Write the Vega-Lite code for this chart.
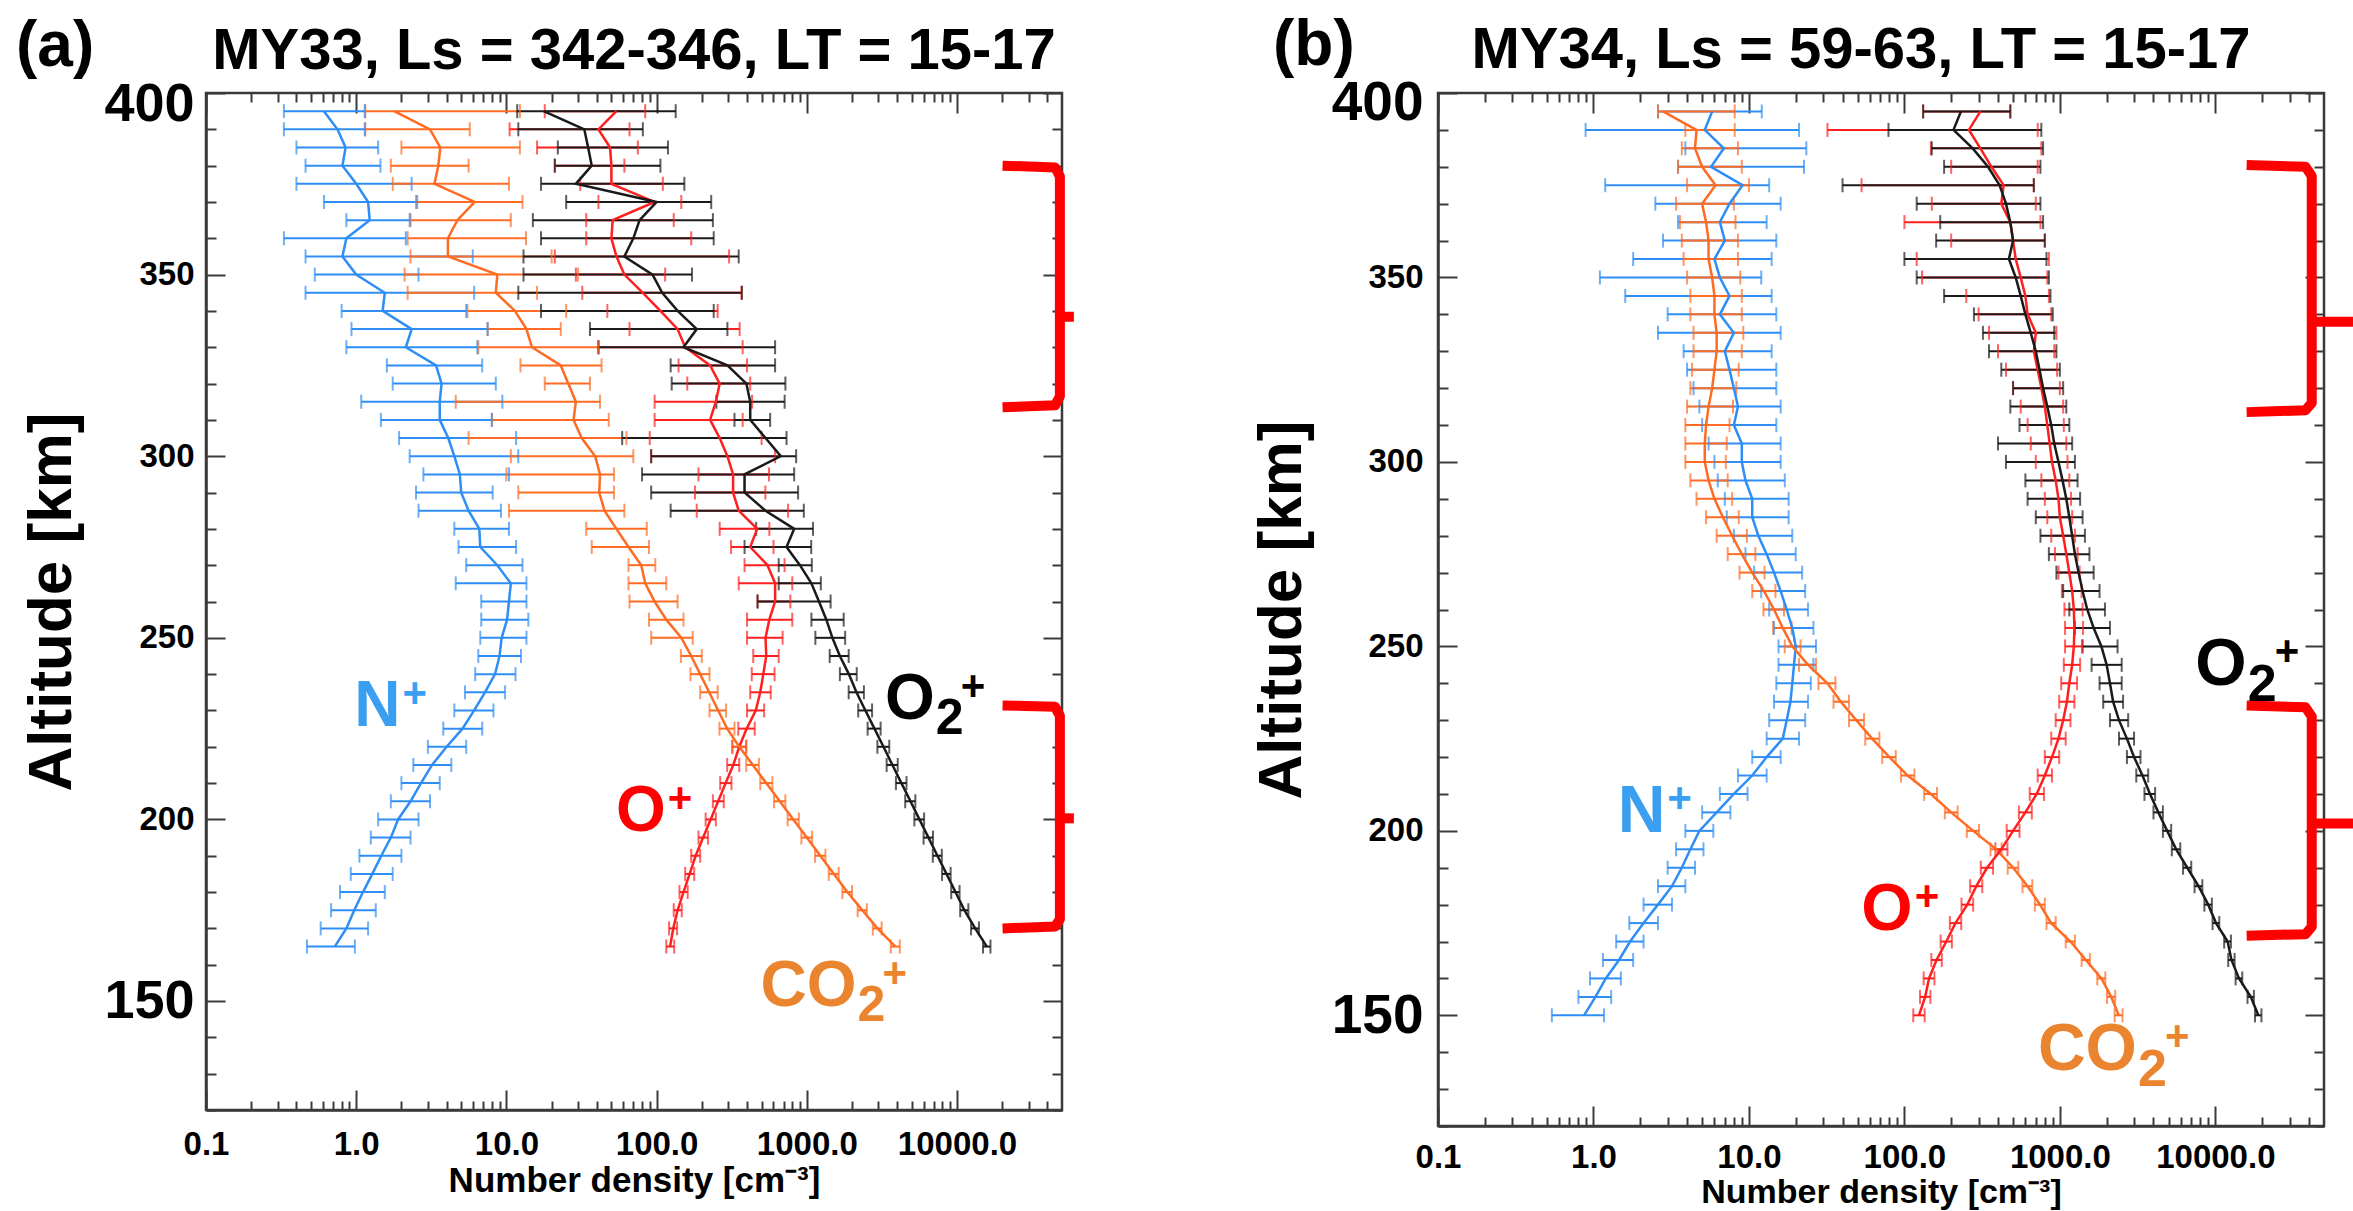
{
  "$schema": "https://vega.github.io/schema/vega-lite/v6.json",
  "padding": {"left": 14, "top": 12, "right": 0, "bottom": 0},
  "background": "white",
  "config": {"view": {"stroke": "#3a3a3a", "strokeWidth": 2.5}, "font": "Liberation Sans"},
  "datasets": {
    "prof": [
      {"p":"a","i":"N+","a":395,"v":0.61,"lo":0.33,"hi":1.14},{"p":"a","i":"N+","a":390,"v":0.75,"lo":0.33,"hi":1.14},{"p":"a","i":"N+","a":385,"v":0.85,"lo":0.40,"hi":1.40},{"p":"a","i":"N+","a":380,"v":0.81,"lo":0.46,"hi":1.45},{"p":"a","i":"N+","a":375,"v":1.00,"lo":0.40,"hi":2.34},{"p":"a","i":"N+","a":370,"v":1.20,"lo":0.61,"hi":2.55},{"p":"a","i":"N+","a":365,"v":1.23,"lo":0.86,"hi":2.27},{"p":"a","i":"N+","a":360,"v":0.86,"lo":0.33,"hi":2.14},{"p":"a","i":"N+","a":355,"v":0.81,"lo":0.46,"hi":5.97},{"p":"a","i":"N+","a":350,"v":1.00,"lo":0.53,"hi":2.60},{"p":"a","i":"N+","a":345,"v":1.55,"lo":0.46,"hi":6.10},{"p":"a","i":"N+","a":340,"v":1.50,"lo":0.80,"hi":5.40},{"p":"a","i":"N+","a":335,"v":2.34,"lo":0.93,"hi":7.50},{"p":"a","i":"N+","a":330,"v":2.14,"lo":0.86,"hi":6.40},{"p":"a","i":"N+","a":325,"v":3.40,"lo":1.60,"hi":6.90},{"p":"a","i":"N+","a":320,"v":3.70,"lo":1.75,"hi":8.50},{"p":"a","i":"N+","a":315,"v":3.60,"lo":1.08,"hi":9.40},{"p":"a","i":"N+","a":310,"v":3.60,"lo":1.46,"hi":8.00},{"p":"a","i":"N+","a":305,"v":4.10,"lo":1.93,"hi":11.6},{"p":"a","i":"N+","a":300,"v":4.50,"lo":2.27,"hi":12.0},{"p":"a","i":"N+","a":295,"v":4.90,"lo":2.80,"hi":10.4},{"p":"a","i":"N+","a":290,"v":5.00,"lo":2.50,"hi":8.1},{"p":"a","i":"N+","a":285,"v":5.60,"lo":2.60,"hi":9.2},{"p":"a","i":"N+","a":280,"v":6.60,"lo":4.50,"hi":10.4},{"p":"a","i":"N+","a":275,"v":6.70,"lo":4.80,"hi":11.6},{"p":"a","i":"N+","a":270,"v":8.70,"lo":5.40,"hi":12.8},{"p":"a","i":"N+","a":265,"v":10.7,"lo":4.60,"hi":13.6},{"p":"a","i":"N+","a":260,"v":10.4,"lo":6.80,"hi":13.6},{"p":"a","i":"N+","a":255,"v":10.1,"lo":6.80,"hi":14.0},{"p":"a","i":"N+","a":250,"v":9.3,"lo":6.70,"hi":13.6},{"p":"a","i":"N+","a":245,"v":9.0,"lo":6.5,"hi":12.5},{"p":"a","i":"N+","a":240,"v":8.4,"lo":6.2,"hi":11.5},{"p":"a","i":"N+","a":235,"v":7.2,"lo":5.3,"hi":9.8},{"p":"a","i":"N+","a":230,"v":6.1,"lo":4.5,"hi":8.2},{"p":"a","i":"N+","a":225,"v":5.1,"lo":3.8,"hi":6.9},{"p":"a","i":"N+","a":220,"v":4.0,"lo":3.0,"hi":5.4},{"p":"a","i":"N+","a":215,"v":3.2,"lo":2.4,"hi":4.3},{"p":"a","i":"N+","a":210,"v":2.7,"lo":2.0,"hi":3.6},{"p":"a","i":"N+","a":205,"v":2.3,"lo":1.7,"hi":3.1},{"p":"a","i":"N+","a":200,"v":1.9,"lo":1.4,"hi":2.6},{"p":"a","i":"N+","a":195,"v":1.7,"lo":1.25,"hi":2.3},{"p":"a","i":"N+","a":190,"v":1.47,"lo":1.05,"hi":2.0},{"p":"a","i":"N+","a":185,"v":1.28,"lo":0.92,"hi":1.75},{"p":"a","i":"N+","a":180,"v":1.11,"lo":0.78,"hi":1.55},{"p":"a","i":"N+","a":175,"v":0.97,"lo":0.68,"hi":1.35},{"p":"a","i":"N+","a":170,"v":0.86,"lo":0.58,"hi":1.2},{"p":"a","i":"N+","a":165,"v":0.72,"lo":0.47,"hi":0.98},
      {"p":"a","i":"O+","a":395,"v":54,"lo":18,"hi":84},{"p":"a","i":"O+","a":390,"v":41,"lo":10.5,"hi":66},{"p":"a","i":"O+","a":385,"v":49,"lo":16,"hi":75},{"p":"a","i":"O+","a":380,"v":50,"lo":21,"hi":61},{"p":"a","i":"O+","a":375,"v":50,"lo":31,"hi":110},{"p":"a","i":"O+","a":370,"v":97,"lo":41,"hi":146},{"p":"a","i":"O+","a":365,"v":51,"lo":34,"hi":130},{"p":"a","i":"O+","a":360,"v":50,"lo":34,"hi":170},{"p":"a","i":"O+","a":355,"v":54,"lo":21,"hi":304},{"p":"a","i":"O+","a":350,"v":61,"lo":29,"hi":114},{"p":"a","i":"O+","a":345,"v":81,"lo":32,"hi":367},{"p":"a","i":"O+","a":340,"v":106,"lo":47,"hi":255},{"p":"a","i":"O+","a":335,"v":138,"lo":66,"hi":357},{"p":"a","i":"O+","a":330,"v":155,"lo":41,"hi":374},{"p":"a","i":"O+","a":325,"v":227,"lo":140,"hi":400},{"p":"a","i":"O+","a":320,"v":263,"lo":160,"hi":420},{"p":"a","i":"O+","a":315,"v":248,"lo":97,"hi":432},{"p":"a","i":"O+","a":310,"v":227,"lo":97,"hi":374},{"p":"a","i":"O+","a":305,"v":263,"lo":90,"hi":500},{"p":"a","i":"O+","a":300,"v":296,"lo":92,"hi":615},{"p":"a","i":"O+","a":295,"v":323,"lo":190,"hi":560},{"p":"a","i":"O+","a":290,"v":323,"lo":180,"hi":530},{"p":"a","i":"O+","a":285,"v":352,"lo":185,"hi":750},{"p":"a","i":"O+","a":280,"v":467,"lo":263,"hi":563},{"p":"a","i":"O+","a":275,"v":420,"lo":313,"hi":600},{"p":"a","i":"O+","a":270,"v":547,"lo":385,"hi":711},{"p":"a","i":"O+","a":265,"v":615,"lo":352,"hi":800},{"p":"a","i":"O+","a":260,"v":615,"lo":470,"hi":777},{"p":"a","i":"O+","a":255,"v":563,"lo":400,"hi":800},{"p":"a","i":"O+","a":250,"v":531,"lo":400,"hi":690},{"p":"a","i":"O+","a":245,"v":537,"lo":440,"hi":650},{"p":"a","i":"O+","a":240,"v":513,"lo":430,"hi":610},{"p":"a","i":"O+","a":235,"v":490,"lo":420,"hi":575},{"p":"a","i":"O+","a":230,"v":457,"lo":400,"hi":520},{"p":"a","i":"O+","a":225,"v":398,"lo":350,"hi":450},{"p":"a","i":"O+","a":220,"v":355,"lo":320,"hi":395},{"p":"a","i":"O+","a":215,"v":324,"lo":295,"hi":355},{"p":"a","i":"O+","a":210,"v":288,"lo":265,"hi":315},{"p":"a","i":"O+","a":205,"v":257,"lo":237,"hi":280},{"p":"a","i":"O+","a":200,"v":229,"lo":212,"hi":248},{"p":"a","i":"O+","a":195,"v":204,"lo":190,"hi":220},{"p":"a","i":"O+","a":190,"v":182,"lo":170,"hi":195},{"p":"a","i":"O+","a":185,"v":166,"lo":155,"hi":178},{"p":"a","i":"O+","a":180,"v":151,"lo":142,"hi":161},{"p":"a","i":"O+","a":175,"v":138,"lo":130,"hi":147},{"p":"a","i":"O+","a":170,"v":129,"lo":121,"hi":137},{"p":"a","i":"O+","a":165,"v":123,"lo":116,"hi":131},
      {"p":"a","i":"CO2+","a":395,"v":1.79,"lo":1.15,"hi":12.3},{"p":"a","i":"CO2+","a":390,"v":3.1,"lo":1.15,"hi":5.7},{"p":"a","i":"CO2+","a":385,"v":3.63,"lo":2.0,"hi":12.3},{"p":"a","i":"CO2+","a":380,"v":3.52,"lo":1.7,"hi":5.6},{"p":"a","i":"CO2+","a":375,"v":3.32,"lo":1.75,"hi":10.4},{"p":"a","i":"CO2+","a":370,"v":6.15,"lo":2.5,"hi":12.8},{"p":"a","i":"CO2+","a":365,"v":4.72,"lo":2.3,"hi":10.7},{"p":"a","i":"CO2+","a":360,"v":4.08,"lo":2.2,"hi":13.5},{"p":"a","i":"CO2+","a":355,"v":4.08,"lo":2.3,"hi":20},{"p":"a","i":"CO2+","a":350,"v":8.7,"lo":2.1,"hi":30},{"p":"a","i":"CO2+","a":345,"v":8.5,"lo":2.2,"hi":16},{"p":"a","i":"CO2+","a":340,"v":11.4,"lo":5.5,"hi":25},{"p":"a","i":"CO2+","a":335,"v":13.6,"lo":7.5,"hi":23},{"p":"a","i":"CO2+","a":330,"v":14.8,"lo":6.5,"hi":41},{"p":"a","i":"CO2+","a":325,"v":23,"lo":12.4,"hi":43},{"p":"a","i":"CO2+","a":320,"v":25.8,"lo":18,"hi":36},{"p":"a","i":"CO2+","a":315,"v":29,"lo":4.6,"hi":42},{"p":"a","i":"CO2+","a":310,"v":28,"lo":8,"hi":48},{"p":"a","i":"CO2+","a":305,"v":31.7,"lo":5.6,"hi":63},{"p":"a","i":"CO2+","a":300,"v":39,"lo":10.7,"hi":70},{"p":"a","i":"CO2+","a":295,"v":42,"lo":10,"hi":52},{"p":"a","i":"CO2+","a":290,"v":41.5,"lo":12,"hi":52},{"p":"a","i":"CO2+","a":285,"v":45,"lo":10.4,"hi":61},{"p":"a","i":"CO2+","a":280,"v":54,"lo":34,"hi":86},{"p":"a","i":"CO2+","a":275,"v":65,"lo":37,"hi":89},{"p":"a","i":"CO2+","a":270,"v":79,"lo":65,"hi":98},{"p":"a","i":"CO2+","a":265,"v":84,"lo":65,"hi":116},{"p":"a","i":"CO2+","a":260,"v":97,"lo":66,"hi":138},{"p":"a","i":"CO2+","a":255,"v":116,"lo":89,"hi":151},{"p":"a","i":"CO2+","a":250,"v":146,"lo":92,"hi":174},{"p":"a","i":"CO2+","a":245,"v":170,"lo":145,"hi":200},{"p":"a","i":"CO2+","a":240,"v":195,"lo":168,"hi":225},{"p":"a","i":"CO2+","a":235,"v":224,"lo":195,"hi":255},{"p":"a","i":"CO2+","a":230,"v":257,"lo":225,"hi":290},{"p":"a","i":"CO2+","a":225,"v":295,"lo":262,"hi":330},{"p":"a","i":"CO2+","a":220,"v":355,"lo":318,"hi":395},{"p":"a","i":"CO2+","a":215,"v":437,"lo":395,"hi":480},{"p":"a","i":"CO2+","a":210,"v":537,"lo":490,"hi":590},{"p":"a","i":"CO2+","a":205,"v":661,"lo":605,"hi":720},{"p":"a","i":"CO2+","a":200,"v":813,"lo":745,"hi":885},{"p":"a","i":"CO2+","a":195,"v":1000,"lo":920,"hi":1085},{"p":"a","i":"CO2+","a":190,"v":1230,"lo":1135,"hi":1330},{"p":"a","i":"CO2+","a":185,"v":1514,"lo":1400,"hi":1630},{"p":"a","i":"CO2+","a":180,"v":1862,"lo":1725,"hi":2000},{"p":"a","i":"CO2+","a":175,"v":2344,"lo":2180,"hi":2510},{"p":"a","i":"CO2+","a":170,"v":2951,"lo":2750,"hi":3150},{"p":"a","i":"CO2+","a":165,"v":3890,"lo":3620,"hi":4160},
      {"p":"a","i":"O2+","a":395,"v":17.7,"lo":11.8,"hi":134},{"p":"a","i":"O2+","a":390,"v":33,"lo":12,"hi":81},{"p":"a","i":"O2+","a":385,"v":35,"lo":22,"hi":119},{"p":"a","i":"O2+","a":380,"v":37,"lo":21,"hi":106},{"p":"a","i":"O2+","a":375,"v":29,"lo":17,"hi":153},{"p":"a","i":"O2+","a":370,"v":100,"lo":25,"hi":231},{"p":"a","i":"O2+","a":365,"v":77,"lo":15,"hi":237},{"p":"a","i":"O2+","a":360,"v":70,"lo":17,"hi":240},{"p":"a","i":"O2+","a":355,"v":61,"lo":13,"hi":352},{"p":"a","i":"O2+","a":350,"v":94,"lo":13,"hi":172},{"p":"a","i":"O2+","a":345,"v":109,"lo":12,"hi":370},{"p":"a","i":"O2+","a":340,"v":138,"lo":17,"hi":240},{"p":"a","i":"O2+","a":335,"v":185,"lo":36,"hi":296},{"p":"a","i":"O2+","a":330,"v":151,"lo":41,"hi":615},{"p":"a","i":"O2+","a":325,"v":296,"lo":124,"hi":615},{"p":"a","i":"O2+","a":320,"v":396,"lo":126,"hi":720},{"p":"a","i":"O2+","a":315,"v":420,"lo":250,"hi":712},{"p":"a","i":"O2+","a":310,"v":420,"lo":330,"hi":570},{"p":"a","i":"O2+","a":305,"v":531,"lo":59,"hi":733},{"p":"a","i":"O2+","a":300,"v":671,"lo":92,"hi":849},{"p":"a","i":"O2+","a":295,"v":385,"lo":80,"hi":824},{"p":"a","i":"O2+","a":290,"v":385,"lo":92,"hi":875},{"p":"a","i":"O2+","a":285,"v":531,"lo":124,"hi":955},{"p":"a","i":"O2+","a":280,"v":824,"lo":460,"hi":1100},{"p":"a","i":"O2+","a":275,"v":733,"lo":385,"hi":1070},{"p":"a","i":"O2+","a":270,"v":900,"lo":650,"hi":1080},{"p":"a","i":"O2+","a":265,"v":1073,"lo":650,"hi":1240},{"p":"a","i":"O2+","a":260,"v":1205,"lo":470,"hi":1440},{"p":"a","i":"O2+","a":255,"v":1350,"lo":1073,"hi":1760},{"p":"a","i":"O2+","a":250,"v":1480,"lo":1140,"hi":1800},{"p":"a","i":"O2+","a":245,"v":1660,"lo":1420,"hi":1900},{"p":"a","i":"O2+","a":240,"v":1905,"lo":1660,"hi":2150},{"p":"a","i":"O2+","a":235,"v":2140,"lo":1900,"hi":2400},{"p":"a","i":"O2+","a":230,"v":2455,"lo":2200,"hi":2720},{"p":"a","i":"O2+","a":225,"v":2820,"lo":2540,"hi":3100},{"p":"a","i":"O2+","a":220,"v":3240,"lo":2950,"hi":3540},{"p":"a","i":"O2+","a":215,"v":3715,"lo":3400,"hi":4030},{"p":"a","i":"O2+","a":210,"v":4265,"lo":3920,"hi":4610},{"p":"a","i":"O2+","a":205,"v":4900,"lo":4520,"hi":5280},{"p":"a","i":"O2+","a":200,"v":5620,"lo":5200,"hi":6040},{"p":"a","i":"O2+","a":195,"v":6455,"lo":5990,"hi":6920},{"p":"a","i":"O2+","a":190,"v":7410,"lo":6900,"hi":7920},{"p":"a","i":"O2+","a":185,"v":8510,"lo":7950,"hi":9070},{"p":"a","i":"O2+","a":180,"v":9770,"lo":9150,"hi":10400},{"p":"a","i":"O2+","a":175,"v":11200,"lo":10500,"hi":11900},{"p":"a","i":"O2+","a":170,"v":13200,"lo":12400,"hi":14000},{"p":"a","i":"O2+","a":165,"v":15800,"lo":14900,"hi":16700},
      {"p":"b","i":"N+","a":395,"v":5.8,"lo":2.6,"hi":12.1},{"p":"b","i":"N+","a":390,"v":5.2,"lo":0.89,"hi":21},{"p":"b","i":"N+","a":385,"v":6.9,"lo":3.9,"hi":23.4},{"p":"b","i":"N+","a":380,"v":5.7,"lo":3.5,"hi":22.6},{"p":"b","i":"N+","a":375,"v":9.1,"lo":1.19,"hi":13.5},{"p":"b","i":"N+","a":370,"v":7.5,"lo":2.5,"hi":16},{"p":"b","i":"N+","a":365,"v":6.5,"lo":3.5,"hi":13},{"p":"b","i":"N+","a":360,"v":7.0,"lo":2.8,"hi":15},{"p":"b","i":"N+","a":355,"v":6.0,"lo":1.8,"hi":14},{"p":"b","i":"N+","a":350,"v":6.5,"lo":1.1,"hi":12},{"p":"b","i":"N+","a":345,"v":7.5,"lo":1.6,"hi":14},{"p":"b","i":"N+","a":340,"v":6.5,"lo":3.0,"hi":15},{"p":"b","i":"N+","a":335,"v":8.0,"lo":2.6,"hi":16},{"p":"b","i":"N+","a":330,"v":7.0,"lo":3.8,"hi":14},{"p":"b","i":"N+","a":325,"v":7.5,"lo":4.0,"hi":15},{"p":"b","i":"N+","a":320,"v":8.0,"lo":4.4,"hi":15},{"p":"b","i":"N+","a":315,"v":8.5,"lo":4.8,"hi":16},{"p":"b","i":"N+","a":310,"v":8.0,"lo":5.0,"hi":15},{"p":"b","i":"N+","a":305,"v":9.0,"lo":5.5,"hi":16},{"p":"b","i":"N+","a":300,"v":9.0,"lo":6.0,"hi":16},{"p":"b","i":"N+","a":295,"v":9.5,"lo":6.3,"hi":17},{"p":"b","i":"N+","a":290,"v":10.5,"lo":7.0,"hi":18},{"p":"b","i":"N+","a":285,"v":10.5,"lo":7.2,"hi":18},{"p":"b","i":"N+","a":280,"v":11.5,"lo":8.0,"hi":19},{"p":"b","i":"N+","a":275,"v":13.0,"lo":9.5,"hi":20},{"p":"b","i":"N+","a":270,"v":14.5,"lo":10.8,"hi":22},{"p":"b","i":"N+","a":265,"v":16.0,"lo":12.0,"hi":23},{"p":"b","i":"N+","a":260,"v":17.5,"lo":13.5,"hi":24},{"p":"b","i":"N+","a":255,"v":19.0,"lo":14.5,"hi":26},{"p":"b","i":"N+","a":250,"v":20.0,"lo":15.5,"hi":27},{"p":"b","i":"N+","a":245,"v":19.5,"lo":15.5,"hi":26},{"p":"b","i":"N+","a":240,"v":19.0,"lo":15.0,"hi":25},{"p":"b","i":"N+","a":235,"v":18.5,"lo":14.5,"hi":24},{"p":"b","i":"N+","a":230,"v":17.5,"lo":13.5,"hi":23},{"p":"b","i":"N+","a":225,"v":16.5,"lo":13.0,"hi":21},{"p":"b","i":"N+","a":220,"v":13.0,"lo":10.5,"hi":16},{"p":"b","i":"N+","a":215,"v":10.5,"lo":8.5,"hi":13},{"p":"b","i":"N+","a":210,"v":8.0,"lo":6.5,"hi":9.8},{"p":"b","i":"N+","a":205,"v":6.2,"lo":5.0,"hi":7.6},{"p":"b","i":"N+","a":200,"v":4.8,"lo":3.9,"hi":5.9},{"p":"b","i":"N+","a":195,"v":4.2,"lo":3.4,"hi":5.1},{"p":"b","i":"N+","a":190,"v":3.7,"lo":3.0,"hi":4.5},{"p":"b","i":"N+","a":185,"v":3.2,"lo":2.6,"hi":3.9},{"p":"b","i":"N+","a":180,"v":2.6,"lo":2.1,"hi":3.2},{"p":"b","i":"N+","a":175,"v":2.1,"lo":1.7,"hi":2.6},{"p":"b","i":"N+","a":170,"v":1.72,"lo":1.4,"hi":2.1},{"p":"b","i":"N+","a":165,"v":1.46,"lo":1.15,"hi":1.8},{"p":"b","i":"N+","a":160,"v":1.2,"lo":0.95,"hi":1.5},{"p":"b","i":"N+","a":155,"v":1.03,"lo":0.8,"hi":1.3},{"p":"b","i":"N+","a":150,"v":0.87,"lo":0.54,"hi":1.17},
      {"p":"b","i":"CO2+","a":395,"v":2.8,"lo":2.6,"hi":8.1},{"p":"b","i":"CO2+","a":390,"v":4.6,"lo":3.9,"hi":8.1},{"p":"b","i":"CO2+","a":385,"v":4.5,"lo":3.7,"hi":8.5},{"p":"b","i":"CO2+","a":380,"v":5.0,"lo":3.5,"hi":9.0},{"p":"b","i":"CO2+","a":375,"v":6.1,"lo":4.0,"hi":10},{"p":"b","i":"CO2+","a":370,"v":5.0,"lo":3.4,"hi":8.0},{"p":"b","i":"CO2+","a":365,"v":5.3,"lo":3.6,"hi":8.2},{"p":"b","i":"CO2+","a":360,"v":5.5,"lo":3.7,"hi":8.5},{"p":"b","i":"CO2+","a":355,"v":5.5,"lo":3.8,"hi":8.5},{"p":"b","i":"CO2+","a":350,"v":5.8,"lo":4.0,"hi":8.8},{"p":"b","i":"CO2+","a":345,"v":6.0,"lo":4.2,"hi":9.0},{"p":"b","i":"CO2+","a":340,"v":6.0,"lo":4.2,"hi":9.0},{"p":"b","i":"CO2+","a":335,"v":6.2,"lo":4.4,"hi":9.2},{"p":"b","i":"CO2+","a":330,"v":6.2,"lo":4.4,"hi":9.0},{"p":"b","i":"CO2+","a":325,"v":6.0,"lo":4.3,"hi":8.6},{"p":"b","i":"CO2+","a":320,"v":5.8,"lo":4.2,"hi":8.3},{"p":"b","i":"CO2+","a":315,"v":5.5,"lo":4.0,"hi":7.9},{"p":"b","i":"CO2+","a":310,"v":5.3,"lo":3.9,"hi":7.5},{"p":"b","i":"CO2+","a":305,"v":5.2,"lo":3.9,"hi":7.2},{"p":"b","i":"CO2+","a":300,"v":5.2,"lo":3.9,"hi":7.1},{"p":"b","i":"CO2+","a":295,"v":5.5,"lo":4.2,"hi":7.3},{"p":"b","i":"CO2+","a":290,"v":6.0,"lo":4.6,"hi":7.8},{"p":"b","i":"CO2+","a":285,"v":6.8,"lo":5.3,"hi":8.6},{"p":"b","i":"CO2+","a":280,"v":7.8,"lo":6.2,"hi":9.7},{"p":"b","i":"CO2+","a":275,"v":9.0,"lo":7.3,"hi":11},{"p":"b","i":"CO2+","a":270,"v":10.5,"lo":8.7,"hi":12.6},{"p":"b","i":"CO2+","a":265,"v":12.5,"lo":10.5,"hi":14.8},{"p":"b","i":"CO2+","a":260,"v":14.5,"lo":12.4,"hi":16.8},{"p":"b","i":"CO2+","a":255,"v":16.5,"lo":14.3,"hi":18.8},{"p":"b","i":"CO2+","a":250,"v":19.0,"lo":17.0,"hi":21.5},{"p":"b","i":"CO2+","a":245,"v":24,"lo":21,"hi":27},{"p":"b","i":"CO2+","a":240,"v":32,"lo":28,"hi":36},{"p":"b","i":"CO2+","a":235,"v":39,"lo":35,"hi":44},{"p":"b","i":"CO2+","a":230,"v":49,"lo":44,"hi":55},{"p":"b","i":"CO2+","a":225,"v":62,"lo":56,"hi":69},{"p":"b","i":"CO2+","a":220,"v":80,"lo":72,"hi":88},{"p":"b","i":"CO2+","a":215,"v":105,"lo":95,"hi":116},{"p":"b","i":"CO2+","a":210,"v":148,"lo":134,"hi":162},{"p":"b","i":"CO2+","a":205,"v":200,"lo":182,"hi":220},{"p":"b","i":"CO2+","a":200,"v":277,"lo":252,"hi":302},{"p":"b","i":"CO2+","a":195,"v":390,"lo":358,"hi":422},{"p":"b","i":"CO2+","a":190,"v":501,"lo":462,"hi":540},{"p":"b","i":"CO2+","a":185,"v":620,"lo":575,"hi":665},{"p":"b","i":"CO2+","a":180,"v":745,"lo":690,"hi":800},{"p":"b","i":"CO2+","a":175,"v":880,"lo":820,"hi":940},{"p":"b","i":"CO2+","a":170,"v":1170,"lo":1090,"hi":1250},{"p":"b","i":"CO2+","a":165,"v":1470,"lo":1380,"hi":1560},{"p":"b","i":"CO2+","a":160,"v":1850,"lo":1740,"hi":1960},{"p":"b","i":"CO2+","a":155,"v":2140,"lo":2010,"hi":2270},{"p":"b","i":"CO2+","a":150,"v":2390,"lo":2250,"hi":2530},
      {"p":"b","i":"O+","a":395,"v":308,"lo":132,"hi":480},{"p":"b","i":"O+","a":390,"v":260,"lo":32,"hi":720},{"p":"b","i":"O+","a":385,"v":308,"lo":148,"hi":760},{"p":"b","i":"O+","a":380,"v":363,"lo":200,"hi":720},{"p":"b","i":"O+","a":375,"v":435,"lo":53,"hi":680},{"p":"b","i":"O+","a":370,"v":420,"lo":150,"hi":700},{"p":"b","i":"O+","a":365,"v":480,"lo":100,"hi":750},{"p":"b","i":"O+","a":360,"v":500,"lo":200,"hi":800},{"p":"b","i":"O+","a":355,"v":520,"lo":120,"hi":850},{"p":"b","i":"O+","a":350,"v":560,"lo":130,"hi":830},{"p":"b","i":"O+","a":345,"v":600,"lo":250,"hi":850},{"p":"b","i":"O+","a":340,"v":620,"lo":300,"hi":880},{"p":"b","i":"O+","a":335,"v":700,"lo":350,"hi":950},{"p":"b","i":"O+","a":330,"v":680,"lo":400,"hi":920},{"p":"b","i":"O+","a":325,"v":720,"lo":450,"hi":960},{"p":"b","i":"O+","a":320,"v":760,"lo":500,"hi":1000},{"p":"b","i":"O+","a":315,"v":800,"lo":560,"hi":1050},{"p":"b","i":"O+","a":310,"v":830,"lo":620,"hi":1060},{"p":"b","i":"O+","a":305,"v":860,"lo":650,"hi":1100},{"p":"b","i":"O+","a":300,"v":890,"lo":700,"hi":1120},{"p":"b","i":"O+","a":295,"v":940,"lo":760,"hi":1150},{"p":"b","i":"O+","a":290,"v":980,"lo":800,"hi":1180},{"p":"b","i":"O+","a":285,"v":1000,"lo":830,"hi":1200},{"p":"b","i":"O+","a":280,"v":1050,"lo":880,"hi":1250},{"p":"b","i":"O+","a":275,"v":1100,"lo":930,"hi":1300},{"p":"b","i":"O+","a":270,"v":1150,"lo":980,"hi":1340},{"p":"b","i":"O+","a":265,"v":1200,"lo":1030,"hi":1380},{"p":"b","i":"O+","a":260,"v":1230,"lo":1070,"hi":1400},{"p":"b","i":"O+","a":255,"v":1240,"lo":1080,"hi":1410},{"p":"b","i":"O+","a":250,"v":1230,"lo":1080,"hi":1390},{"p":"b","i":"O+","a":245,"v":1200,"lo":1060,"hi":1350},{"p":"b","i":"O+","a":240,"v":1150,"lo":1020,"hi":1290},{"p":"b","i":"O+","a":235,"v":1110,"lo":990,"hi":1240},{"p":"b","i":"O+","a":230,"v":1050,"lo":940,"hi":1170},{"p":"b","i":"O+","a":225,"v":980,"lo":880,"hi":1090},{"p":"b","i":"O+","a":220,"v":890,"lo":800,"hi":990},{"p":"b","i":"O+","a":215,"v":800,"lo":720,"hi":890},{"p":"b","i":"O+","a":210,"v":710,"lo":640,"hi":790},{"p":"b","i":"O+","a":205,"v":600,"lo":545,"hi":660},{"p":"b","i":"O+","a":200,"v":500,"lo":455,"hi":550},{"p":"b","i":"O+","a":195,"v":420,"lo":385,"hi":460},{"p":"b","i":"O+","a":190,"v":340,"lo":310,"hi":372},{"p":"b","i":"O+","a":185,"v":290,"lo":265,"hi":317},{"p":"b","i":"O+","a":180,"v":254,"lo":233,"hi":277},{"p":"b","i":"O+","a":175,"v":213,"lo":196,"hi":232},{"p":"b","i":"O+","a":170,"v":186,"lo":171,"hi":202},{"p":"b","i":"O+","a":165,"v":161,"lo":149,"hi":174},{"p":"b","i":"O+","a":160,"v":144,"lo":133,"hi":156},{"p":"b","i":"O+","a":155,"v":136,"lo":126,"hi":147},{"p":"b","i":"O+","a":150,"v":124,"lo":114,"hi":135},
      {"p":"b","i":"O2+","a":395,"v":231,"lo":132,"hi":480},{"p":"b","i":"O2+","a":390,"v":207,"lo":79,"hi":760},{"p":"b","i":"O2+","a":385,"v":275,"lo":150,"hi":780},{"p":"b","i":"O2+","a":380,"v":345,"lo":180,"hi":750},{"p":"b","i":"O2+","a":375,"v":410,"lo":40,"hi":680},{"p":"b","i":"O2+","a":370,"v":450,"lo":120,"hi":750},{"p":"b","i":"O2+","a":365,"v":480,"lo":170,"hi":780},{"p":"b","i":"O2+","a":360,"v":500,"lo":160,"hi":800},{"p":"b","i":"O2+","a":355,"v":470,"lo":100,"hi":820},{"p":"b","i":"O2+","a":350,"v":520,"lo":120,"hi":850},{"p":"b","i":"O2+","a":345,"v":560,"lo":180,"hi":870},{"p":"b","i":"O2+","a":340,"v":600,"lo":280,"hi":900},{"p":"b","i":"O2+","a":335,"v":650,"lo":320,"hi":920},{"p":"b","i":"O2+","a":330,"v":700,"lo":350,"hi":950},{"p":"b","i":"O2+","a":325,"v":740,"lo":420,"hi":1000},{"p":"b","i":"O2+","a":320,"v":780,"lo":500,"hi":1050},{"p":"b","i":"O2+","a":315,"v":830,"lo":480,"hi":1100},{"p":"b","i":"O2+","a":310,"v":880,"lo":550,"hi":1150},{"p":"b","i":"O2+","a":305,"v":920,"lo":400,"hi":1200},{"p":"b","i":"O2+","a":300,"v":980,"lo":450,"hi":1250},{"p":"b","i":"O2+","a":295,"v":1040,"lo":600,"hi":1300},{"p":"b","i":"O2+","a":290,"v":1100,"lo":620,"hi":1350},{"p":"b","i":"O2+","a":285,"v":1150,"lo":700,"hi":1400},{"p":"b","i":"O2+","a":280,"v":1200,"lo":750,"hi":1450},{"p":"b","i":"O2+","a":275,"v":1250,"lo":850,"hi":1550},{"p":"b","i":"O2+","a":270,"v":1320,"lo":950,"hi":1650},{"p":"b","i":"O2+","a":265,"v":1400,"lo":1050,"hi":1800},{"p":"b","i":"O2+","a":260,"v":1500,"lo":1150,"hi":1950},{"p":"b","i":"O2+","a":255,"v":1650,"lo":1250,"hi":2100},{"p":"b","i":"O2+","a":250,"v":1850,"lo":1400,"hi":2350},{"p":"b","i":"O2+","a":245,"v":2000,"lo":1600,"hi":2500},{"p":"b","i":"O2+","a":240,"v":2100,"lo":1800,"hi":2500},{"p":"b","i":"O2+","a":235,"v":2200,"lo":1900,"hi":2550},{"p":"b","i":"O2+","a":230,"v":2400,"lo":2100,"hi":2750},{"p":"b","i":"O2+","a":225,"v":2700,"lo":2400,"hi":3000},{"p":"b","i":"O2+","a":220,"v":3000,"lo":2700,"hi":3300},{"p":"b","i":"O2+","a":215,"v":3400,"lo":3100,"hi":3700},{"p":"b","i":"O2+","a":210,"v":3800,"lo":3500,"hi":4100},{"p":"b","i":"O2+","a":205,"v":4300,"lo":4000,"hi":4600},{"p":"b","i":"O2+","a":200,"v":4900,"lo":4600,"hi":5200},{"p":"b","i":"O2+","a":195,"v":5600,"lo":5250,"hi":5950},{"p":"b","i":"O2+","a":190,"v":6600,"lo":6200,"hi":7000},{"p":"b","i":"O2+","a":185,"v":7800,"lo":7350,"hi":8250},{"p":"b","i":"O2+","a":180,"v":9000,"lo":8500,"hi":9500},{"p":"b","i":"O2+","a":175,"v":10100,"lo":9600,"hi":10600},{"p":"b","i":"O2+","a":170,"v":12000,"lo":11400,"hi":12600},{"p":"b","i":"O2+","a":165,"v":12700,"lo":12100,"hi":13300},{"p":"b","i":"O2+","a":160,"v":14200,"lo":13500,"hi":14900},{"p":"b","i":"O2+","a":155,"v":16900,"lo":16100,"hi":17700},{"p":"b","i":"O2+","a":150,"v":18900,"lo":18000,"hi":19800}
    ],
    "brk": [
      {"p":"a","s":"a1","o":0,"x":20100,"a":380},{"p":"a","s":"a1","o":1,"x":45000,"a":379.5},{"p":"a","s":"a1","o":2,"x":48400,"a":377},{"p":"a","s":"a1","o":3,"x":48400,"a":316.5},{"p":"a","s":"a1","o":4,"x":45000,"a":314},{"p":"a","s":"a1","o":5,"x":20100,"a":313.5},
      {"p":"a","s":"a1s","o":0,"x":48400,"a":338.4},{"p":"a","s":"a1s","o":1,"x":60000,"a":338.4},
      {"p":"a","s":"a2","o":0,"x":20100,"a":231.4},{"p":"a","s":"a2","o":1,"x":45000,"a":231},{"p":"a","s":"a2","o":2,"x":48400,"a":228.5},{"p":"a","s":"a2","o":3,"x":48400,"a":172.5},{"p":"a","s":"a2","o":4,"x":45000,"a":170.5},{"p":"a","s":"a2","o":5,"x":20100,"a":170},
      {"p":"a","s":"a2s","o":0,"x":48400,"a":200.3},{"p":"a","s":"a2s","o":1,"x":60000,"a":200.3},
      {"p":"b","s":"b1","o":0,"x":15900,"a":380.5},{"p":"b","s":"b1","o":1,"x":38000,"a":380},{"p":"b","s":"b1","o":2,"x":41700,"a":377.5},{"p":"b","s":"b1","o":3,"x":41700,"a":316},{"p":"b","s":"b1","o":4,"x":38000,"a":314},{"p":"b","s":"b1","o":5,"x":15900,"a":313.5},
      {"p":"b","s":"b1s","o":0,"x":41700,"a":338},{"p":"b","s":"b1s","o":1,"x":80000,"a":338},
      {"p":"b","s":"b2","o":0,"x":15900,"a":234},{"p":"b","s":"b2","o":1,"x":38000,"a":233.5},{"p":"b","s":"b2","o":2,"x":41700,"a":231},{"p":"b","s":"b2","o":3,"x":41700,"a":174},{"p":"b","s":"b2","o":4,"x":38000,"a":172},{"p":"b","s":"b2","o":5,"x":15900,"a":171.6},
      {"p":"b","s":"b2s","o":0,"x":41700,"a":202},{"p":"b","s":"b2s","o":1,"x":80000,"a":202}
    ],
    "lab": [
      {"p":"a","i":"N+","m":"N","s":"","u":"+","x":1.97,"a":231},
      {"p":"a","i":"O+","m":"O","s":"","u":"+","x":115,"a":202},
      {"p":"a","i":"CO2+","m":"CO","s":"2","u":"+","x":2140,"a":154},
      {"p":"a","i":"O2+","m":"O","s":"2","u":"+","x":7100,"a":233},
      {"p":"b","i":"N+","m":"N","s":"","u":"+","x":2.9,"a":205},
      {"p":"b","i":"O+","m":"O","s":"","u":"+","x":113,"a":178.6},
      {"p":"b","i":"CO2+","m":"CO","s":"2","u":"+","x":3130,"a":140.5},
      {"p":"b","i":"O2+","m":"O","s":"2","u":"+","x":15900,"a":245}
    ],
    "tag": [
      {"p":"a","t":"(a)","x":0.0099,"a":412.8},
      {"p":"b","t":"(b)","x":0.0159,"a":412.8}
    ]
  },
  "spacing": 376,
  "bounds": "flush",
  "hconcat": [
    {
      "width": 856, "height": 1017,
      "title": {"text": "MY33, Ls = 342-346, LT = 15-17", "fontSize": 58, "font": "Liberation Sans", "fontWeight": "bold", "color": "#000", "anchor": "middle", "frame": "group", "offset": 10, "dy": 76},
      "resolve": {"axis": {"x": "independent", "y": "independent"}, "scale": {"color": "independent"}},
      "layer": [
        {
          "data": {"name": "prof"}, "transform": [{"filter": "datum.p == 'a'"}],
          "mark": {"type": "rule", "strokeWidth": 2},
          "encoding": {
            "x": {"field": "lo", "type": "quantitative", "scale": {"type": "log", "domain": [0.1, 50000], "nice": false},
              "axis": {"orient": "bottom", "values": [0.1,0.2,0.3,0.4,0.5,0.6,0.7,0.8,0.9,1,2,3,4,5,6,7,8,9,10,20,30,40,50,60,70,80,90,100,200,300,400,500,600,700,800,900,1000,2000,3000,4000,5000,6000,7000,8000,9000,10000,20000,30000,40000],
                "labelExpr": "indexof([0.1,1,10,100,1000,10000], datum.value) >= 0 ? format(datum.value, '.1f') : ''",
                "tickSize": {"condition": {"test": "indexof([0.1,1,10,100,1000,10000], datum.value) >= 0", "value": -20}, "value": -9},
                "labelPadding": 38, "labelFontSize": 33, "labelFontWeight": "bold", "labelFont": "Liberation Sans", "labelColor": "#000", "labelOverlap": false, "labelFlush": false,
                "title": "Number density [cm⁻³]", "titleFontSize": 35, "titleFontWeight": "bold", "titleFont": "Liberation Sans", "titleColor": "#000", "titlePadding": -9,
                "domainColor": "#3a3a3a", "domainWidth": 2.5, "tickColor": "#3a3a3a", "tickWidth": 2, "grid": false}},
            "x2": {"field": "hi"},
            "y": {"field": "a", "type": "quantitative", "scale": {"domain": [120, 400], "nice": false, "zero": false},
              "axis": {"orient": "left", "values": [120,130,140,150,160,170,180,190,200,210,220,230,240,250,260,270,280,290,300,310,320,330,340,350,360,370,380,390,400],
                "labelExpr": "datum.value % 50 == 0 ? datum.label : ''",
                "tickSize": {"condition": {"test": "datum.value % 50 == 0", "value": -19}, "value": -10},
                "labelFontSize": {"condition": {"test": "datum.value == 400 || datum.value == 150", "value": 54}, "value": 33},
                "labelOffset": {"condition": {"test": "datum.value == 400", "value": 11}, "value": 0},
                "labelPadding": 31, "labelFontWeight": "bold", "labelFont": "Liberation Sans", "labelColor": "#000", "labelOverlap": false, "labelFlush": false,
                "title": "Altitude [km]", "titleFontSize": 62, "titleFontWeight": "bold", "titleFont": "Liberation Sans", "titleColor": "#000", "titlePadding": 20,
                "domainColor": "#3a3a3a", "domainWidth": 2.5, "tickColor": "#3a3a3a", "tickWidth": 2, "grid": false}},
            "color": {"field": "i", "type": "nominal", "scale": {"domain": ["N+","CO2+","O+","O2+"], "range": ["#2f8ef5","#ff6b22","#ff1f1f","#1a1a1a"]}, "legend": null}
          }
        },
        {
          "data": {"name": "prof"}, "transform": [{"filter": "datum.p == 'a'"}],
          "mark": {"type": "tick", "orient": "vertical", "size": 14, "thickness": 2},
          "encoding": {
            "x": {"field": "lo", "type": "quantitative", "axis": null},
            "y": {"field": "a", "type": "quantitative", "axis": null},
            "color": {"field": "i", "type": "nominal", "scale": {"domain": ["N+","CO2+","O+","O2+"], "range": ["#2f8ef5","#ff6b22","#ff1f1f","#1a1a1a"]}, "legend": null}
          }
        },
        {
          "data": {"name": "prof"}, "transform": [{"filter": "datum.p == 'a'"}],
          "mark": {"type": "tick", "orient": "vertical", "size": 14, "thickness": 2},
          "encoding": {
            "x": {"field": "hi", "type": "quantitative", "axis": null},
            "y": {"field": "a", "type": "quantitative", "axis": null},
            "color": {"field": "i", "type": "nominal", "scale": {"domain": ["N+","CO2+","O+","O2+"], "range": ["#2f8ef5","#ff6b22","#ff1f1f","#1a1a1a"]}, "legend": null}
          }
        },
        {
          "data": {"name": "prof"}, "transform": [{"filter": "datum.p == 'a'"}],
          "mark": {"type": "line", "strokeWidth": 2.5},
          "encoding": {
            "x": {"field": "v", "type": "quantitative",
              "axis": {"orient": "top", "values": [0.1,0.2,0.3,0.4,0.5,0.6,0.7,0.8,0.9,1,2,3,4,5,6,7,8,9,10,20,30,40,50,60,70,80,90,100,200,300,400,500,600,700,800,900,1000,2000,3000,4000,5000,6000,7000,8000,9000,10000,20000,30000,40000],
                "labels": false, "domain": false, "title": null, "grid": false,
                "tickSize": {"condition": {"test": "indexof([0.1,1,10,100,1000,10000], datum.value) >= 0", "value": -20}, "value": -9},
                "tickColor": "#3a3a3a", "tickWidth": 2}},
            "y": {"field": "a", "type": "quantitative",
              "axis": {"orient": "right", "values": [120,130,140,150,160,170,180,190,200,210,220,230,240,250,260,270,280,290,300,310,320,330,340,350,360,370,380,390,400],
                "labels": false, "domain": false, "title": null, "grid": false,
                "tickSize": {"condition": {"test": "datum.value % 50 == 0", "value": -19}, "value": -10},
                "tickColor": "#3a3a3a", "tickWidth": 2}},
            "order": {"field": "a", "type": "quantitative"},
            "color": {"field": "i", "type": "nominal", "scale": {"domain": ["N+","CO2+","O+","O2+"], "range": ["#2f8ef5","#ff6b22","#ff1f1f","#1a1a1a"]}, "legend": null}
          }
        },
        {
          "data": {"name": "brk"}, "transform": [{"filter": "datum.p == 'a'"}],
          "mark": {"type": "line", "strokeWidth": 10, "color": "#ff0000", "strokeJoin": "round", "strokeCap": "butt"},
          "encoding": {
            "x": {"field": "x", "type": "quantitative", "axis": null},
            "y": {"field": "a", "type": "quantitative", "axis": null},
            "detail": {"field": "s"},
            "order": {"field": "o", "type": "quantitative"}
          }
        },
        {
          "data": {"name": "lab"}, "transform": [{"filter": "datum.p == 'a'"}],
          "mark": {"type": "text", "align": "right", "baseline": "middle", "fontSize": 64, "fontWeight": "bold", "font": "Liberation Sans"},
          "encoding": {
            "x": {"field": "x", "type": "quantitative", "axis": null},
            "y": {"field": "a", "type": "quantitative", "axis": null},
            "text": {"field": "m"},
            "color": {"field": "i", "type": "nominal", "scale": {"domain": ["N+","CO2+","O+","O2+"], "range": ["#3a9ff0","#ea842f","#ff0000","#000000"]}, "legend": null}
          }
        },
        {
          "data": {"name": "lab"}, "transform": [{"filter": "datum.p == 'a'"}],
          "mark": {"type": "text", "align": "left", "baseline": "middle", "fontSize": 50, "fontWeight": "bold", "font": "Liberation Sans", "dx": 1, "dy": 19},
          "encoding": {
            "x": {"field": "x", "type": "quantitative", "axis": null},
            "y": {"field": "a", "type": "quantitative", "axis": null},
            "text": {"field": "s"},
            "color": {"field": "i", "type": "nominal", "scale": {"domain": ["N+","CO2+","O+","O2+"], "range": ["#3a9ff0","#ea842f","#ff0000","#000000"]}, "legend": null}
          }
        },
        {
          "data": {"name": "lab"}, "transform": [{"filter": "datum.p == 'a' && datum.s == ''"}],
          "mark": {"type": "text", "align": "left", "baseline": "middle", "fontSize": 42, "fontWeight": "bold", "font": "Liberation Sans", "dx": 2, "dy": -13},
          "encoding": {
            "x": {"field": "x", "type": "quantitative", "axis": null},
            "y": {"field": "a", "type": "quantitative", "axis": null},
            "text": {"field": "u"},
            "color": {"field": "i", "type": "nominal", "scale": {"domain": ["N+","CO2+","O+","O2+"], "range": ["#3a9ff0","#ea842f","#ff0000","#000000"]}, "legend": null}
          }
        },
        {
          "data": {"name": "lab"}, "transform": [{"filter": "datum.p == 'a' && datum.s != ''"}],
          "mark": {"type": "text", "align": "left", "baseline": "middle", "fontSize": 42, "fontWeight": "bold", "font": "Liberation Sans", "dx": 26, "dy": -13},
          "encoding": {
            "x": {"field": "x", "type": "quantitative", "axis": null},
            "y": {"field": "a", "type": "quantitative", "axis": null},
            "text": {"field": "u"},
            "color": {"field": "i", "type": "nominal", "scale": {"domain": ["N+","CO2+","O+","O2+"], "range": ["#3a9ff0","#ea842f","#ff0000","#000000"]}, "legend": null}
          }
        },
        {
          "data": {"name": "tag"}, "transform": [{"filter": "datum.p == 'a'"}],
          "mark": {"type": "text", "align": "center", "baseline": "middle", "fontSize": 64, "fontWeight": "bold", "font": "Liberation Sans", "color": "#000"},
          "encoding": {
            "x": {"field": "x", "type": "quantitative", "axis": null},
            "y": {"field": "a", "type": "quantitative", "axis": null},
            "text": {"field": "t"}
          }
        }
      ]
    },
    {
      "width": 886, "height": 1033,
      "title": {"text": "MY34, Ls = 59-63, LT = 15-17", "fontSize": 58, "font": "Liberation Sans", "fontWeight": "bold", "color": "#000", "anchor": "middle", "frame": "group", "offset": 10, "dx": -20, "dy": 76},
      "resolve": {"axis": {"x": "independent", "y": "independent"}, "scale": {"color": "independent"}},
      "layer": [
        {
          "data": {"name": "prof"}, "transform": [{"filter": "datum.p == 'b'"}],
          "mark": {"type": "rule", "strokeWidth": 2},
          "encoding": {
            "x": {"field": "lo", "type": "quantitative", "scale": {"type": "log", "domain": [0.1, 50000], "nice": false},
              "axis": {"orient": "bottom", "values": [0.1,0.2,0.3,0.4,0.5,0.6,0.7,0.8,0.9,1,2,3,4,5,6,7,8,9,10,20,30,40,50,60,70,80,90,100,200,300,400,500,600,700,800,900,1000,2000,3000,4000,5000,6000,7000,8000,9000,10000,20000,30000,40000],
                "labelExpr": "indexof([0.1,1,10,100,1000,10000], datum.value) >= 0 ? format(datum.value, '.1f') : ''",
                "tickSize": {"condition": {"test": "indexof([0.1,1,10,100,1000,10000], datum.value) >= 0", "value": -20}, "value": -9},
                "labelPadding": 35, "labelFontSize": 33, "labelFontWeight": "bold", "labelFont": "Liberation Sans", "labelColor": "#000", "labelOverlap": false, "labelFlush": false,
                "title": "Number density [cm⁻³]", "titleFontSize": 34, "titleFontWeight": "bold", "titleFont": "Liberation Sans", "titleColor": "#000", "titlePadding": -10,
                "domainColor": "#3a3a3a", "domainWidth": 2.5, "tickColor": "#3a3a3a", "tickWidth": 2, "grid": false}},
            "x2": {"field": "hi"},
            "y": {"field": "a", "type": "quantitative", "scale": {"domain": [120, 400], "nice": false, "zero": false},
              "axis": {"orient": "left", "values": [120,130,140,150,160,170,180,190,200,210,220,230,240,250,260,270,280,290,300,310,320,330,340,350,360,370,380,390,400],
                "labelExpr": "datum.value % 50 == 0 ? datum.label : ''",
                "tickSize": {"condition": {"test": "datum.value % 50 == 0", "value": -19}, "value": -10},
                "labelFontSize": {"condition": {"test": "datum.value == 400 || datum.value == 150", "value": 55}, "value": 33},
                "labelOffset": {"condition": {"test": "datum.value == 400", "value": 9}, "value": 0},
                "labelPadding": 34, "labelFontWeight": "bold", "labelFont": "Liberation Sans", "labelColor": "#000", "labelOverlap": false, "labelFlush": false,
                "title": "Altitude [km]", "titleFontSize": 62, "titleFontWeight": "bold", "titleFont": "Liberation Sans", "titleColor": "#000", "titlePadding": 18,
                "domainColor": "#3a3a3a", "domainWidth": 2.5, "tickColor": "#3a3a3a", "tickWidth": 2, "grid": false}},
            "color": {"field": "i", "type": "nominal", "scale": {"domain": ["N+","CO2+","O+","O2+"], "range": ["#2f8ef5","#ff6b22","#ff1f1f","#1a1a1a"]}, "legend": null}
          }
        },
        {
          "data": {"name": "prof"}, "transform": [{"filter": "datum.p == 'b'"}],
          "mark": {"type": "tick", "orient": "vertical", "size": 14, "thickness": 2},
          "encoding": {
            "x": {"field": "lo", "type": "quantitative", "axis": null},
            "y": {"field": "a", "type": "quantitative", "axis": null},
            "color": {"field": "i", "type": "nominal", "scale": {"domain": ["N+","CO2+","O+","O2+"], "range": ["#2f8ef5","#ff6b22","#ff1f1f","#1a1a1a"]}, "legend": null}
          }
        },
        {
          "data": {"name": "prof"}, "transform": [{"filter": "datum.p == 'b'"}],
          "mark": {"type": "tick", "orient": "vertical", "size": 14, "thickness": 2},
          "encoding": {
            "x": {"field": "hi", "type": "quantitative", "axis": null},
            "y": {"field": "a", "type": "quantitative", "axis": null},
            "color": {"field": "i", "type": "nominal", "scale": {"domain": ["N+","CO2+","O+","O2+"], "range": ["#2f8ef5","#ff6b22","#ff1f1f","#1a1a1a"]}, "legend": null}
          }
        },
        {
          "data": {"name": "prof"}, "transform": [{"filter": "datum.p == 'b'"}],
          "mark": {"type": "line", "strokeWidth": 2.5},
          "encoding": {
            "x": {"field": "v", "type": "quantitative",
              "axis": {"orient": "top", "values": [0.1,0.2,0.3,0.4,0.5,0.6,0.7,0.8,0.9,1,2,3,4,5,6,7,8,9,10,20,30,40,50,60,70,80,90,100,200,300,400,500,600,700,800,900,1000,2000,3000,4000,5000,6000,7000,8000,9000,10000,20000,30000,40000],
                "labels": false, "domain": false, "title": null, "grid": false,
                "tickSize": {"condition": {"test": "indexof([0.1,1,10,100,1000,10000], datum.value) >= 0", "value": -20}, "value": -9},
                "tickColor": "#3a3a3a", "tickWidth": 2}},
            "y": {"field": "a", "type": "quantitative",
              "axis": {"orient": "right", "values": [120,130,140,150,160,170,180,190,200,210,220,230,240,250,260,270,280,290,300,310,320,330,340,350,360,370,380,390,400],
                "labels": false, "domain": false, "title": null, "grid": false,
                "tickSize": {"condition": {"test": "datum.value % 50 == 0", "value": -19}, "value": -10},
                "tickColor": "#3a3a3a", "tickWidth": 2}},
            "order": {"field": "a", "type": "quantitative"},
            "color": {"field": "i", "type": "nominal", "scale": {"domain": ["N+","CO2+","O+","O2+"], "range": ["#2f8ef5","#ff6b22","#ff1f1f","#1a1a1a"]}, "legend": null}
          }
        },
        {
          "data": {"name": "brk"}, "transform": [{"filter": "datum.p == 'b'"}],
          "mark": {"type": "line", "strokeWidth": 10, "color": "#ff0000", "strokeJoin": "round", "strokeCap": "butt"},
          "encoding": {
            "x": {"field": "x", "type": "quantitative", "axis": null},
            "y": {"field": "a", "type": "quantitative", "axis": null},
            "detail": {"field": "s"},
            "order": {"field": "o", "type": "quantitative"}
          }
        },
        {
          "data": {"name": "lab"}, "transform": [{"filter": "datum.p == 'b'"}],
          "mark": {"type": "text", "align": "right", "baseline": "middle", "fontSize": 66, "fontWeight": "bold", "font": "Liberation Sans"},
          "encoding": {
            "x": {"field": "x", "type": "quantitative", "axis": null},
            "y": {"field": "a", "type": "quantitative", "axis": null},
            "text": {"field": "m"},
            "color": {"field": "i", "type": "nominal", "scale": {"domain": ["N+","CO2+","O+","O2+"], "range": ["#3a9ff0","#ea842f","#ff0000","#000000"]}, "legend": null}
          }
        },
        {
          "data": {"name": "lab"}, "transform": [{"filter": "datum.p == 'b'"}],
          "mark": {"type": "text", "align": "left", "baseline": "middle", "fontSize": 52, "fontWeight": "bold", "font": "Liberation Sans", "dx": 1, "dy": 20},
          "encoding": {
            "x": {"field": "x", "type": "quantitative", "axis": null},
            "y": {"field": "a", "type": "quantitative", "axis": null},
            "text": {"field": "s"},
            "color": {"field": "i", "type": "nominal", "scale": {"domain": ["N+","CO2+","O+","O2+"], "range": ["#3a9ff0","#ea842f","#ff0000","#000000"]}, "legend": null}
          }
        },
        {
          "data": {"name": "lab"}, "transform": [{"filter": "datum.p == 'b' && datum.s == ''"}],
          "mark": {"type": "text", "align": "left", "baseline": "middle", "fontSize": 42, "fontWeight": "bold", "font": "Liberation Sans", "dx": 2, "dy": -13},
          "encoding": {
            "x": {"field": "x", "type": "quantitative", "axis": null},
            "y": {"field": "a", "type": "quantitative", "axis": null},
            "text": {"field": "u"},
            "color": {"field": "i", "type": "nominal", "scale": {"domain": ["N+","CO2+","O+","O2+"], "range": ["#3a9ff0","#ea842f","#ff0000","#000000"]}, "legend": null}
          }
        },
        {
          "data": {"name": "lab"}, "transform": [{"filter": "datum.p == 'b' && datum.s != ''"}],
          "mark": {"type": "text", "align": "left", "baseline": "middle", "fontSize": 42, "fontWeight": "bold", "font": "Liberation Sans", "dx": 28, "dy": -13},
          "encoding": {
            "x": {"field": "x", "type": "quantitative", "axis": null},
            "y": {"field": "a", "type": "quantitative", "axis": null},
            "text": {"field": "u"},
            "color": {"field": "i", "type": "nominal", "scale": {"domain": ["N+","CO2+","O+","O2+"], "range": ["#3a9ff0","#ea842f","#ff0000","#000000"]}, "legend": null}
          }
        },
        {
          "data": {"name": "tag"}, "transform": [{"filter": "datum.p == 'b'"}],
          "mark": {"type": "text", "align": "center", "baseline": "middle", "fontSize": 64, "fontWeight": "bold", "font": "Liberation Sans", "color": "#000"},
          "encoding": {
            "x": {"field": "x", "type": "quantitative", "axis": null},
            "y": {"field": "a", "type": "quantitative", "axis": null},
            "text": {"field": "t"}
          }
        }
      ]
    }
  ]
}
